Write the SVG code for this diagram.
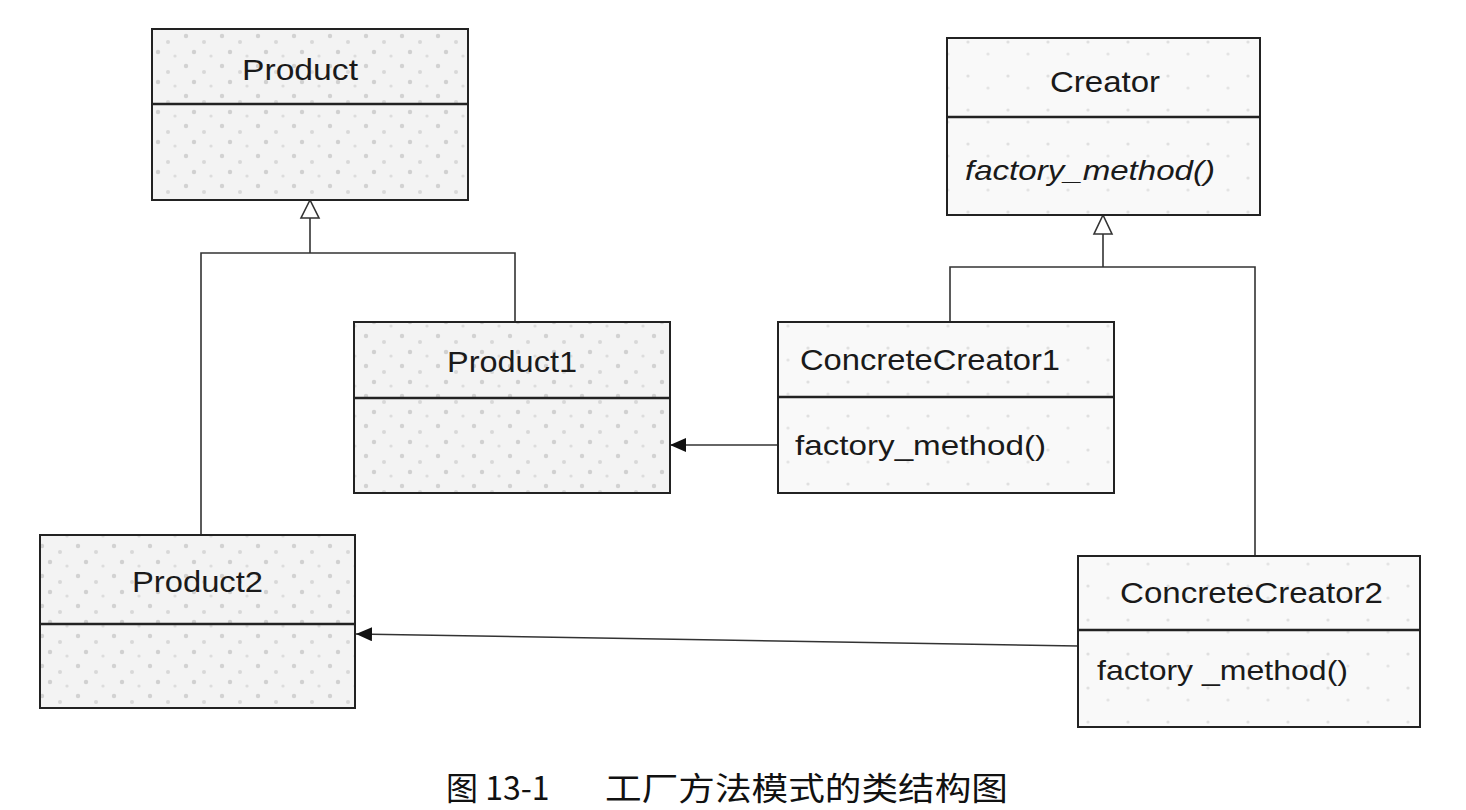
<svg xmlns="http://www.w3.org/2000/svg" width="1466" height="810" viewBox="0 0 1466 810">
<style>
.box{stroke:#222;stroke-width:2}
.prod{fill:url(#speck)}
.crea{fill:url(#speck2)}
.div{stroke:#222;stroke-width:2.5}
.name{font-family:"Liberation Sans",Arial,sans-serif;font-size:29px;fill:#1a1a1a}
.meth{font-family:"Liberation Sans",Arial,sans-serif;font-size:28px;fill:#1a1a1a}
.ital{font-style:italic}
.ln{fill:none;stroke:#333;stroke-width:1.6}
.cap{font-family:"Noto Sans CJK SC","Liberation Serif",serif;font-size:32px;fill:#111}
</style>
<defs>
<pattern id="speck" width="36" height="30" patternUnits="userSpaceOnUse">
<rect width="36" height="30" fill="#f3f3f3"/>
<circle cx="6" cy="6" r="2.2" fill="#d2d2d2"/>
<circle cx="24" cy="12" r="2" fill="#d8d8d8"/>
<circle cx="14" cy="22" r="2.2" fill="#d0d0d0"/>
<circle cx="31" cy="26" r="1.6" fill="#dcdcdc"/>
</pattern>
<pattern id="speck2" width="40" height="34" patternUnits="userSpaceOnUse">
<rect width="40" height="34" fill="#f9f9f9"/>
<circle cx="8" cy="8" r="1.6" fill="#e0e0e0"/>
<circle cx="28" cy="20" r="1.6" fill="#e4e4e4"/>
</pattern>
<marker id="fill" viewBox="0 0 16 14" refX="16" refY="7" markerWidth="16" markerHeight="14" markerUnits="userSpaceOnUse" orient="auto">
<path d="M0,0 L16,7 L0,14 Z" fill="#111"/>
</marker>
</defs>

<g id="connectors">
<path class="ln" d="M201,534 V253 H515 V322"/>
<path class="ln" d="M310,253 V218"/>
<path d="M310,200 L301,218 L319,218 Z" fill="#fff" stroke="#333" stroke-width="1.6"/>
<path class="ln" d="M950,322 V267 H1255 V556"/>
<path class="ln" d="M1103,267 V234"/>
<path d="M1103,215 L1094,234 L1112,234 Z" fill="#fff" stroke="#333" stroke-width="1.6"/>
<line class="ln" x1="778" y1="445" x2="670" y2="445" marker-end="url(#fill)" stroke-width="1.3"/>
<line class="ln" x1="1078" y1="646" x2="356" y2="634" marker-end="url(#fill)" stroke-width="1.3"/>
</g>

<g id="Product">
<rect class="box prod" x="152" y="29" width="316" height="171"/>
<line class="div" x1="152" y1="104" x2="468" y2="104"/>
<text class="name" x="242" y="80" textLength="116" lengthAdjust="spacingAndGlyphs">Product</text>
</g>

<g id="Creator">
<rect class="box crea" x="947" y="38" width="313" height="177"/>
<line class="div" x1="947" y1="117" x2="1260" y2="117"/>
<text class="name" x="1050" y="92" textLength="110" lengthAdjust="spacingAndGlyphs">Creator</text>
<text class="meth ital" x="965" y="180" textLength="250" lengthAdjust="spacingAndGlyphs">factory_method()</text>
</g>

<g id="Product1">
<rect class="box prod" x="354" y="322" width="316" height="171"/>
<line class="div" x1="354" y1="398" x2="670" y2="398"/>
<text class="name" x="447" y="372" textLength="130" lengthAdjust="spacingAndGlyphs">Product1</text>
</g>

<g id="ConcreteCreator1">
<rect class="box crea" x="778" y="322" width="336" height="171"/>
<line class="div" x1="778" y1="397" x2="1114" y2="397"/>
<text class="name" x="800" y="370" textLength="260" lengthAdjust="spacingAndGlyphs">ConcreteCreator1</text>
<text class="meth" x="795" y="455" textLength="251" lengthAdjust="spacingAndGlyphs">factory_method()</text>
</g>

<g id="Product2">
<rect class="box prod" x="40" y="535" width="315" height="173"/>
<line class="div" x1="40" y1="624" x2="355" y2="624"/>
<text class="name" x="132" y="592" textLength="131" lengthAdjust="spacingAndGlyphs">Product2</text>
</g>

<g id="ConcreteCreator2">
<rect class="box crea" x="1078" y="556" width="342" height="171"/>
<line class="div" x1="1078" y1="630" x2="1420" y2="630"/>
<text class="name" x="1120" y="603" textLength="263" lengthAdjust="spacingAndGlyphs">ConcreteCreator2</text>
<text class="meth" x="1097" y="680" textLength="251" lengthAdjust="spacingAndGlyphs">factory _method()</text>
</g>

<g id="caption">
<text class="cap" x="446" y="800">图 13-1</text>
<text class="cap" x="605" y="800" textLength="403" lengthAdjust="spacingAndGlyphs">工厂方法模式的类结构图</text>
</g>
</svg>
